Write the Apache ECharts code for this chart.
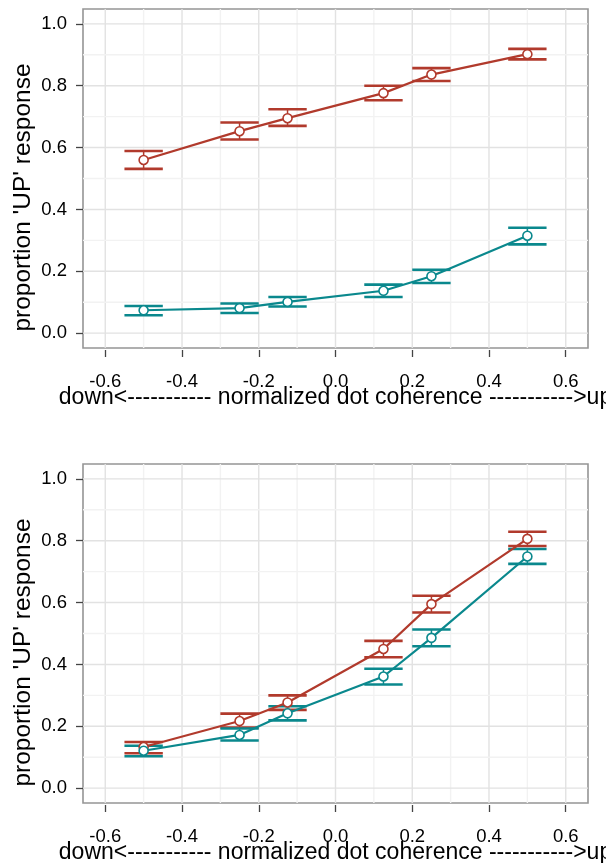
<!DOCTYPE html>
<html>
<head>
<meta charset="utf-8">
<script src="https://cdn.jsdelivr.net/npm/echarts@6/dist/echarts.min.js"></script>
<style>
html,body{margin:0;padding:0;background:#fff;}
#chart{width:606px;height:863px;}
</style>
</head>
<body>
<div id="chart"></div>
<script>
// ---- data ----
const coherence = [-0.5, -0.25, -0.125, 0.125, 0.25, 0.5];

const top_red_mean = [0.560, 0.653, 0.695, 0.776, 0.836, 0.902];
const top_red_lo   = [0.531, 0.626, 0.670, 0.753, 0.815, 0.885];
const top_red_hi   = [0.589, 0.681, 0.724, 0.800, 0.857, 0.919];

const top_teal_mean = [0.074, 0.081, 0.101, 0.137, 0.184, 0.315];
const top_teal_lo   = [0.058, 0.065, 0.086, 0.117, 0.162, 0.287];
const top_teal_hi   = [0.088, 0.096, 0.117, 0.157, 0.205, 0.341];

const bot_red_mean = [0.133, 0.217, 0.277, 0.450, 0.595, 0.806];
const bot_red_lo   = [0.113, 0.196, 0.253, 0.423, 0.568, 0.783];
const bot_red_hi   = [0.149, 0.241, 0.300, 0.476, 0.622, 0.829];

const bot_teal_mean = [0.121, 0.172, 0.242, 0.361, 0.486, 0.749];
const bot_teal_lo   = [0.103, 0.154, 0.219, 0.335, 0.459, 0.725];
const bot_teal_hi   = [0.137, 0.193, 0.265, 0.386, 0.513, 0.773];

const xTicks = [-0.6, -0.4, -0.2, 0.0, 0.2, 0.4, 0.6];
const xMinor = [-0.5, -0.3, -0.1, 0.1, 0.3, 0.5];
const yTicks = [0.0, 0.2, 0.4, 0.6, 0.8, 1.0];
const yMinor = [0.1, 0.3, 0.5, 0.7, 0.9];

const xTitle = "down<----------- normalized dot coherence ----------->up";
const yTitle = "proportion 'UP' response";

// ---- settings ----
const X_MIN = -0.658, X_MAX = 0.658;
const Y_MIN = -0.048, Y_MAX = 1.048;
const RED = '#b13a2c';
const TEAL = '#0a888d';
const FONT = "'Liberation Sans', Arial, Helvetica, sans-serif";
const CAP = 0.05;

const chart = echarts.init(document.getElementById('chart'), null, {renderer: 'canvas'});

function gridData() {
  const d = [];
  xTicks.forEach(v => d.push([v, 0, 1]));
  xMinor.forEach(v => d.push([v, 0, 0]));
  yTicks.forEach(v => d.push([v, 1, 1]));
  yMinor.forEach(v => d.push([v, 1, 0]));
  return d;
}

function gridSeries(idx) {
  return {
    type: 'custom', xAxisIndex: idx, yAxisIndex: idx, silent: true, z: 0,
    clip: true,
    encode: {x: 0},
    data: gridData(),
    renderItem: function (params, api) {
      const v = api.value(0), orient = api.value(1), major = api.value(2);
      let p1, p2;
      if (orient === 0) { p1 = api.coord([v, Y_MIN]); p2 = api.coord([v, Y_MAX]); }
      else { p1 = api.coord([X_MIN, v]); p2 = api.coord([X_MAX, v]); }
      return {
        type: 'line',
        shape: {x1: p1[0], y1: p1[1], x2: p2[0], y2: p2[1]},
        style: {stroke: major ? '#e2e2e2' : '#f2f2f2', lineWidth: 1.4}
      };
    }
  };
}

function errSeries(idx, lo, hi, color) {
  return {
    type: 'custom', xAxisIndex: idx, yAxisIndex: idx, silent: true, z: 2,
    encode: {x: 0, y: [1, 2]},
    data: coherence.map((x, i) => [x, lo[i], hi[i]]),
    renderItem: function (params, api) {
      const x = api.value(0), l = api.value(1), h = api.value(2);
      const a = api.coord([x, l]), b = api.coord([x, h]);
      const l1 = api.coord([x - CAP, l]), l2 = api.coord([x + CAP, l]);
      const h1 = api.coord([x - CAP, h]), h2 = api.coord([x + CAP, h]);
      return {
        type: 'group',
        children: [
          {type: 'line', shape: {x1: a[0], y1: a[1], x2: b[0], y2: b[1]}, style: {stroke: color, lineWidth: 1.5}},
          {type: 'line', shape: {x1: l1[0], y1: l1[1], x2: l2[0], y2: l2[1]}, style: {stroke: color, lineWidth: 2.6}},
          {type: 'line', shape: {x1: h1[0], y1: h1[1], x2: h2[0], y2: h2[1]}, style: {stroke: color, lineWidth: 2.6}}
        ]
      };
    }
  };
}

function lineSeries(idx, mean, color) {
  return {
    type: 'line', xAxisIndex: idx, yAxisIndex: idx, z: 2,
    data: coherence.map((x, i) => [x, mean[i]]),
    symbol: 'circle', symbolSize: 9, showAllSymbol: true,
    lineStyle: {color: color, width: 2.2},
    itemStyle: {color: '#ffffff', borderColor: color, borderWidth: 1.6},
    emphasis: {disabled: true}
  };
}

function xAxis(idx) {
  return {
    type: 'value', gridIndex: idx, min: X_MIN, max: X_MAX, offset: 2,
    axisLine: {show: false, onZero: false},
    splitLine: {show: false},
    axisTick: {show: true, length: 7, customValues: xTicks, lineStyle: {color: '#444', width: 1.3}},
    axisLabel: {customValues: xTicks, margin: 22, color: '#000', fontSize: 18.5, fontFamily: FONT,
      formatter: v => v.toFixed(1)},
    name: xTitle, nameLocation: 'middle', nameGap: 36, nameMoveOverlap: false,
    nameTextStyle: {color: '#000', fontSize: 23, fontFamily: FONT}
  };
}

function yAxis(idx) {
  return {
    type: 'value', gridIndex: idx, min: Y_MIN, max: Y_MAX,
    axisLine: {show: false, onZero: false},
    splitLine: {show: false},
    axisTick: {show: true, length: 7, customValues: yTicks, lineStyle: {color: '#444', width: 1.3}},
    axisLabel: {customValues: yTicks, margin: 16, color: '#000', fontSize: 18.5, fontFamily: FONT,
      formatter: v => v.toFixed(1)},
    name: yTitle, nameLocation: 'middle', nameGap: 47, nameMoveOverlap: false,
    nameTextStyle: {color: '#000', fontSize: 24.5, fontFamily: FONT, padding: [0, 38, 0, 0]}
  };
}

const gridStyle = {show: true, borderColor: '#959595', borderWidth: 1.6, backgroundColor: 'transparent',
  containLabel: false, outerBoundsMode: 'none'};

chart.setOption({
  animation: false,
  backgroundColor: '#ffffff',
  grid: [
    Object.assign({left: 83, top: 9, width: 505, height: 339}, gridStyle),
    Object.assign({left: 83, top: 464, width: 505, height: 339}, gridStyle)
  ],
  xAxis: [xAxis(0), xAxis(1)],
  yAxis: [yAxis(0), yAxis(1)],
  series: [
    gridSeries(0),
    gridSeries(1),
    errSeries(0, top_red_lo, top_red_hi, RED),
    lineSeries(0, top_red_mean, RED),
    errSeries(0, top_teal_lo, top_teal_hi, TEAL),
    lineSeries(0, top_teal_mean, TEAL),
    errSeries(1, bot_red_lo, bot_red_hi, RED),
    lineSeries(1, bot_red_mean, RED),
    errSeries(1, bot_teal_lo, bot_teal_hi, TEAL),
    lineSeries(1, bot_teal_mean, TEAL)
  ]
});
</script>
</body>
</html>
